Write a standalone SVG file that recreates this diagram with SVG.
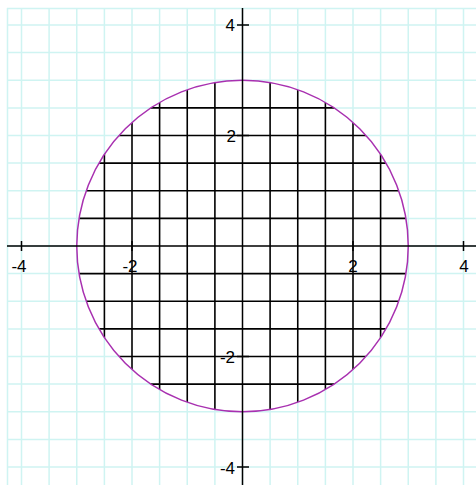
<svg xmlns="http://www.w3.org/2000/svg" width="476" height="485" viewBox="0 0 476 485">
<style>
.grid{stroke:#cff4f2;stroke-width:1.5;fill:none}
.hatch{stroke:#000;stroke-width:1.6;fill:none}
.axis{stroke:#000;stroke-width:1.5;fill:none}
.lbl{font-family:"Liberation Sans",Arial,sans-serif;font-size:17px;fill:#000}
</style>
<defs>
<clipPath id="disk"><circle cx="242.5" cy="246" r="165.75"/></clipPath>
</defs>
<rect width="476" height="485" fill="#fff"/>
<g id="background-grid" class="grid">
<path d="M7.5 8V485M7 8.5H476"/>
<path d="M21.5 8V485M49.1 8V485M76.75 8V485M104.4 8V485M132 8V485M159.6 8V485M187.25 8V485M214.9 8V485M242.5 8V485M270.1 8V485M297.75 8V485M325.4 8V485M353 8V485M380.6 8V485M408.25 8V485M435.9 8V485M463.5 8V485"/>
<path d="M7 25H476M7 52.6H476M7 80.25H476M7 107.9H476M7 135.5H476M7 163.1H476M7 190.75H476M7 218.4H476M7 246H476M7 273.6H476M7 301.25H476M7 328.9H476M7 356.5H476M7 384.1H476M7 411.75H476M7 439.4H476M7 467H476"/>
</g>
<g id="region">
<circle cx="242.5" cy="246" r="165.75" fill="#fff"/>
<g class="hatch" clip-path="url(#disk)">
<path d="M104.4 70V420M132 70V420M159.6 70V420M187.25 70V420M214.9 70V420M270.1 70V420M297.75 70V420M325.4 70V420M353 70V420M380.6 70V420"/>
<path d="M70 107.9H420M70 135.5H420M70 163.1H420M70 190.75H420M70 218.4H420M70 273.6H420M70 301.25H420M70 328.9H420M70 356.5H420M70 384.1H420"/>
</g>
<circle cx="242.5" cy="246" r="165.75" fill="none" stroke="#a830b0" stroke-width="1.5"/>
</g>
<g id="axes" class="axis">
<path d="M7 246H476M242.5 8V485"/>
<path d="M21.5 241V251M132 241V251M353 241V251M463.5 241V251"/>
<path d="M237 25H249M237 135.5H249M237 356.5H249M237 467H249"/>
</g>
<g id="labels" class="lbl">
<text x="235" y="31" text-anchor="end">4</text>
<text x="236" y="141.5" text-anchor="end">2</text>
<text x="235" y="363" text-anchor="end">-2</text>
<text x="235" y="473.5" text-anchor="end">-4</text>
<text x="19" y="272" text-anchor="middle">-4</text>
<text x="130" y="272" text-anchor="middle">-2</text>
<text x="353" y="272" text-anchor="middle">2</text>
<text x="464" y="272" text-anchor="middle">4</text>
</g>
</svg>
